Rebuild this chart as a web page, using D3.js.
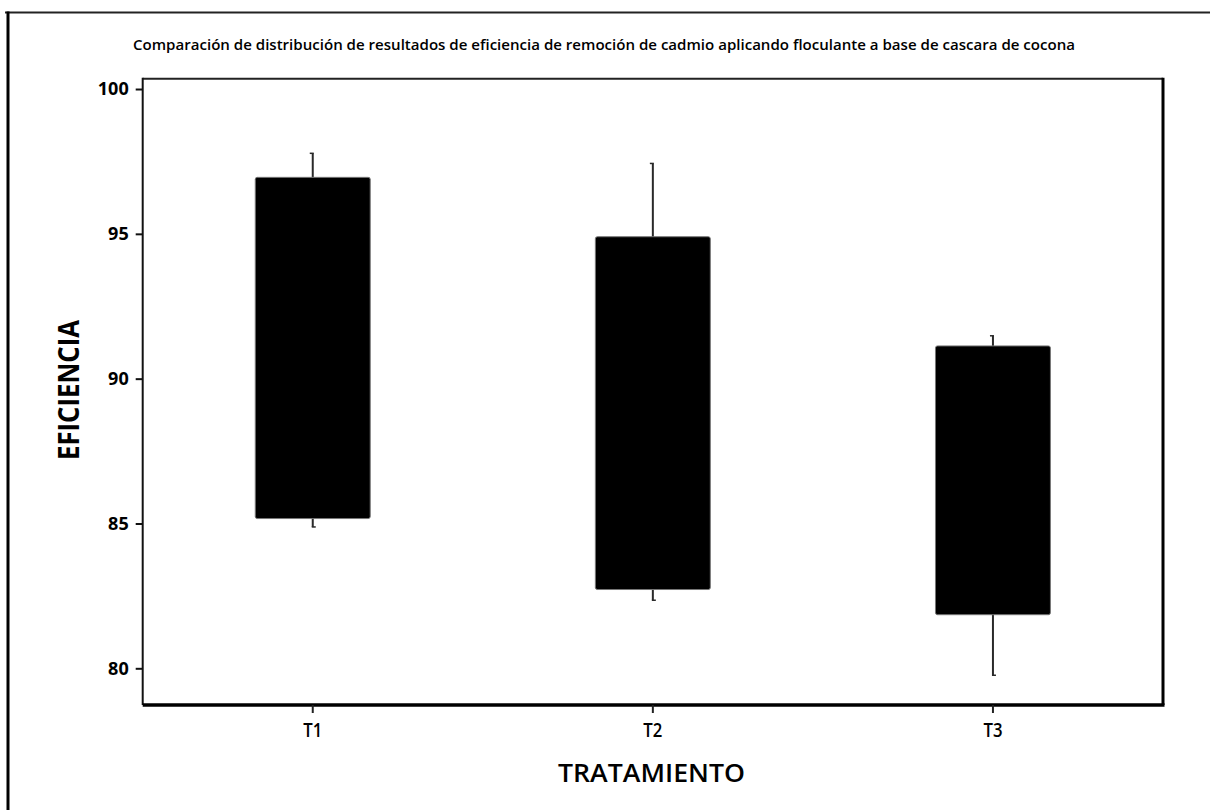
<!DOCTYPE html>
<html>
<head>
<meta charset="utf-8">
<script src="https://cdn.jsdelivr.net/npm/d3@7"></script>
<style>
  html, body { margin: 0; padding: 0; background: #fff; }
  svg { display: block; }
  text { font-family: "Open Sans", "DejaVu Sans", sans-serif; fill: #000; }
</style>
</head>
<body>
<svg id="chart" width="1210" height="810"></svg>
<script>
// Treatment groups and their floating box ranges (eficiencia %)
const categories = ["T1", "T2", "T3"];
const whiskerHigh = [97.78, 97.43, 91.48];
const boxHigh = [96.95, 94.9, 91.13];
const boxLow = [85.17, 82.72, 81.85];
const whiskerLow = [84.88, 82.35, 79.76];
const yTicks = [80, 85, 90, 95, 100];

const title = "Comparación de distribución de resultados de eficiencia de remoción de cadmio aplicando floculante a base de cascara de cocona";
const xTitle = "TRATAMIENTO";
const yTitle = "EFICIENCIA";

const svg = d3.select("#chart");
const plot = { left: 142.7, right: 1163, top: 78.7, bottom: 705 };

const y = d3.scaleLinear().domain([78.733, 100.356]).range([plot.bottom, plot.top]);
const x = d3.scaleBand().domain(categories)
  .range([plot.left, plot.right])
  .paddingInner(0.662).paddingOuter(0.331);

const rows = categories.map((c, i) => ({
  cat: c, wHi: whiskerHigh[i], bHi: boxHigh[i], bLo: boxLow[i], wLo: whiskerLow[i]
}));

// Outer page frame (top and left edges)
svg.append("line").attr("x1", 5).attr("x2", 1210).attr("y1", 12.5).attr("y2", 12.5)
  .attr("stroke", "#222").attr("stroke-width", 2);
svg.append("line").attr("x1", 8).attr("x2", 8).attr("y1", 11.5).attr("y2", 810)
  .attr("stroke", "#000").attr("stroke-width", 3);

// Title
svg.append("text")
  .attr("x", 604).attr("y", 50)
  .attr("text-anchor", "middle")
  .attr("font-size", 15).attr("font-weight", 600)
  .attr("textLength", 942).attr("lengthAdjust", "spacingAndGlyphs")
  .text(title);

// Plot frame: top and right edges
svg.append("line").attr("x1", plot.left).attr("x2", plot.right)
  .attr("y1", plot.top).attr("y2", plot.top)
  .attr("stroke", "#222").attr("stroke-width", 2);
svg.append("line").attr("x1", plot.right).attr("x2", plot.right)
  .attr("y1", plot.top - 1).attr("y2", plot.bottom)
  .attr("stroke", "#000").attr("stroke-width", 3);

// Whiskers
const cx = d => x(d.cat) + x.bandwidth() / 2;
const g = svg.append("g");
g.selectAll("line.whisker").data(rows).join("line")
  .attr("class", "whisker")
  .attr("x1", cx).attr("x2", cx)
  .attr("y1", d => y(d.wHi)).attr("y2", d => y(d.wLo))
  .attr("stroke", "#2a2a2a").attr("stroke-width", 2);
// small caps at whisker ends
g.selectAll("line.capHi").data(rows).join("line")
  .attr("x1", d => cx(d) - 3).attr("x2", d => cx(d) + 1)
  .attr("y1", d => y(d.wHi)).attr("y2", d => y(d.wHi))
  .attr("stroke", "#2a2a2a").attr("stroke-width", 1.5);
g.selectAll("line.capLo").data(rows).join("line")
  .attr("x1", d => cx(d) - 1).attr("x2", d => cx(d) + 3)
  .attr("y1", d => y(d.wLo)).attr("y2", d => y(d.wLo))
  .attr("stroke", "#2a2a2a").attr("stroke-width", 1.5);

// Boxes
g.selectAll("rect.box").data(rows).join("rect")
  .attr("class", "box")
  .attr("x", d => x(d.cat))
  .attr("width", x.bandwidth())
  .attr("y", d => y(d.bHi))
  .attr("height", d => y(d.bLo) - y(d.bHi))
  .attr("rx", 2)
  .attr("fill", "#000")
  .attr("stroke", "#777").attr("stroke-width", 1);

// Y axis
const yAxis = svg.append("g")
  .attr("transform", `translate(${plot.left},0)`)
  .call(d3.axisLeft(y).tickValues(yTicks).tickSize(7).tickPadding(7).tickFormat(d3.format("d")));
yAxis.select(".domain").attr("stroke", "#111").attr("stroke-width", 2)
  .attr("d", `M0,${plot.top - 1}V${plot.bottom}`);
yAxis.selectAll(".tick line").attr("stroke", "#111").attr("stroke-width", 2);
yAxis.selectAll(".tick text")
  .attr("font-size", 18).attr("font-weight", 700)
  .attr("font-family", "\"Open Sans\", sans-serif").attr("fill", "#000");

// X axis
const xAxis = svg.append("g")
  .attr("transform", `translate(0,${plot.bottom})`)
  .call(d3.axisBottom(x).tickSize(8).tickPadding(10));
xAxis.select(".domain").attr("stroke", "#000").attr("stroke-width", 3.5)
  .attr("d", `M${plot.left},0H${plot.right + 1.5}`);
xAxis.selectAll(".tick line").attr("stroke", "#222").attr("stroke-width", 2);
xAxis.selectAll(".tick text")
  .attr("font-size", 20).attr("font-weight", 600)
  .attr("font-family", "\"Open Sans\", sans-serif").attr("fill", "#000")
  .attr("textLength", 19).attr("lengthAdjust", "spacingAndGlyphs");

// Axis titles
svg.append("text")
  .attr("x", 651.5).attr("y", 782)
  .attr("text-anchor", "middle")
  .attr("font-size", 25).attr("font-weight", 600)
  .attr("textLength", 187).attr("lengthAdjust", "spacingAndGlyphs")
  .text(xTitle);

svg.append("text")
  .attr("transform", "translate(79,390) rotate(-90)")
  .attr("text-anchor", "middle")
  .attr("font-size", 29).attr("font-weight", 700)
  .attr("textLength", 140).attr("lengthAdjust", "spacingAndGlyphs")
  .text(yTitle);
</script>
</body>
</html>
